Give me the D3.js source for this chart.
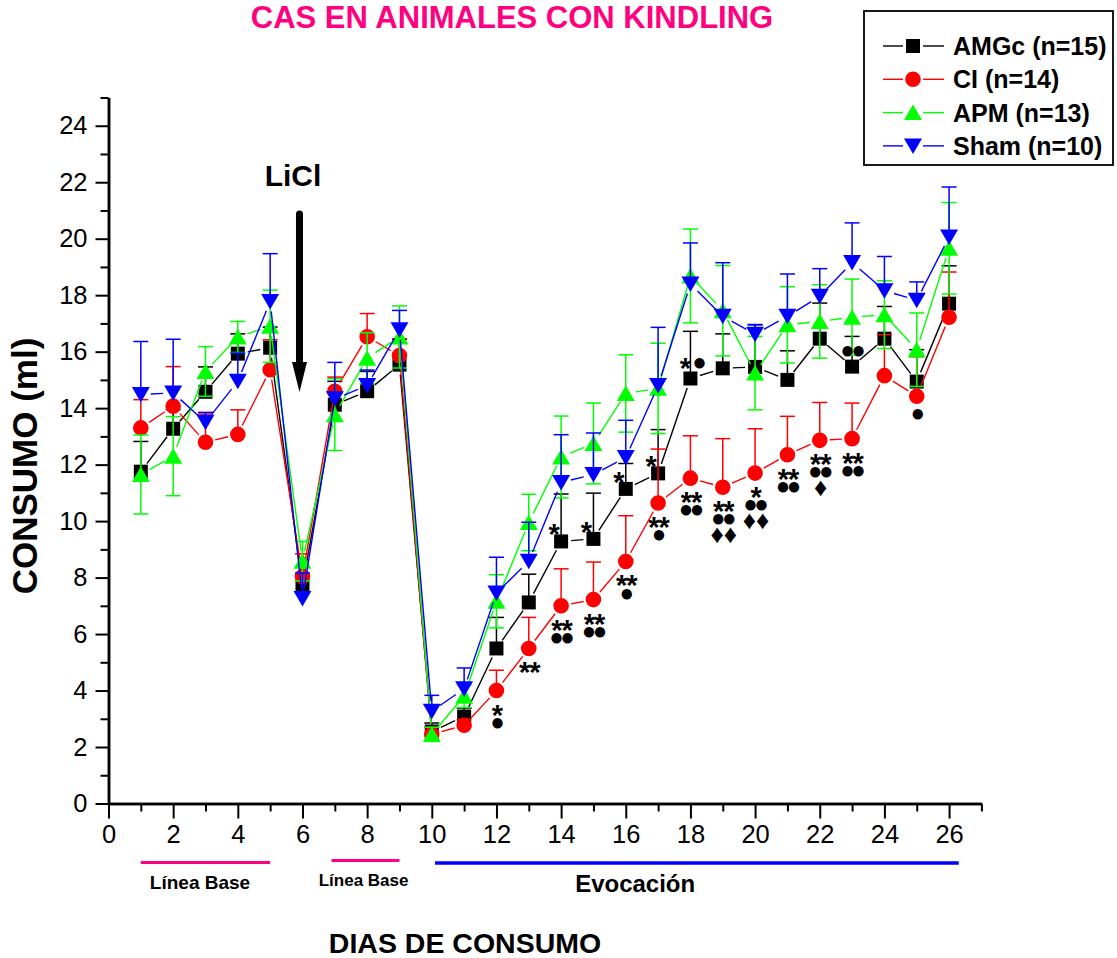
<!DOCTYPE html>
<html>
<head>
<meta charset="utf-8">
<script src="https://cdn.jsdelivr.net/npm/d3@7"></script>
<style>
  body { margin: 0; background: #fff; }
  text { font-family: Arial, "Liberation Sans", sans-serif; }
</style>
</head>
<body>
<svg id="chart" width="1117" height="958"></svg>
<script>
// Consumption days
const days = d3.range(1, 27);

// Mean consumption (ml) per group
const amgc    = [11.75, 13.27, 14.58, 15.93, 16.14, 7.70, 14.12, 14.60, 15.54, 2.55, 3.08, 5.49, 7.12, 9.28, 9.37, 11.14, 11.69, 15.05, 15.41, 15.46, 15.00, 16.46, 15.47, 16.46, 14.94, 17.70];
const amgcErr = [1.07, 0.68, 0.88, 0.70, 0.73, 0.68, 0.83, 0.70, 0.90, 0.30, 0.30, 1.10, 1.00, 1.68, 1.62, 0.90, 1.55, 1.67, 1.22, 1.50, 1.03, 1.26, 1.07, 1.14, 1.13, 1.34];

const ci      = [13.30, 14.07, 12.79, 13.07, 15.36, 8.04, 14.60, 16.53, 15.86, 2.45, 2.77, 4.00, 5.49, 7.00, 7.22, 8.57, 10.64, 11.52, 11.20, 11.70, 12.35, 12.86, 12.92, 15.15, 14.42, 17.22];
const ciErr   = [1.00, 1.40, 1.00, 0.87, 1.06, 0.80, 0.50, 0.82, 0.60, 0.25, 0.20, 0.72, 1.10, 1.31, 1.33, 1.62, 1.91, 1.50, 1.72, 1.57, 1.36, 1.34, 1.26, 1.45, 1.40, 1.60];

const apm     = [11.65, 12.30, 15.30, 16.52, 16.90, 8.58, 13.77, 15.77, 16.52, 2.45, 3.80, 7.16, 9.95, 12.27, 12.75, 14.52, 14.70, 18.68, 17.45, 15.24, 16.95, 17.07, 17.22, 17.31, 16.07, 19.66];
const apmErr  = [1.40, 1.40, 0.88, 0.55, 1.28, 0.70, 1.27, 0.90, 1.10, 0.25, 0.40, 0.94, 1.00, 1.45, 1.43, 1.37, 1.60, 1.66, 1.60, 1.30, 1.35, 1.30, 1.35, 1.20, 1.30, 1.62];

const sham    = [14.48, 14.54, 13.50, 14.95, 17.78, 7.26, 14.33, 14.80, 16.78, 3.27, 4.06, 7.45, 8.58, 11.37, 11.65, 12.25, 14.80, 18.40, 17.25, 16.62, 17.25, 17.96, 19.16, 18.16, 17.82, 20.06];
const shamErr = [1.88, 1.90, 0.35, 1.00, 1.69, 0.90, 1.29, 0.55, 0.68, 0.56, 0.74, 1.27, 1.38, 1.69, 1.47, 1.32, 2.06, 1.45, 1.90, 0.33, 1.50, 0.98, 1.40, 1.21, 0.65, 1.77];

// Group names
const groupNames = ["AMGc (n=15)", "CI (n=14)", "APM (n=13)", "Sham (n=10)"];

// Significance marks under the CI points
const ciSigDays  = [12, 13, 14, 15, 16, 17, 18, 19, 20, 21, 22, 23, 25];
const ciSigMarks = [
  ["*", "●"], ["**"], ["**", "●●"], ["**", "●●"], ["**", "●"], ["**", "●"],
  ["**", "●●"], ["**", "●●", "♦♦"], ["*", "●●", "♦♦"], ["**", "●●"],
  ["**", "●●", "♦"], ["**", "●●"], ["●"]
];
// Significance marks above the AMGc points
const amgcSigDays  = [14, 15, 16, 17, 18, 23];
const amgcSigMarks = ["*", "*", "*", "*", "*●", "●●"];

// Axis ticks
const xTickValues = d3.range(0, 27, 2);
const xMinorTicks = d3.range(1, 28, 2);
const yTickValues = d3.range(0, 25, 2);
const yMinorTicks = d3.range(1, 26, 2);

// Phase bands under the axis (in days)
const phaseLabels  = ["Línea Base", "Línea Base", "Evocación"];
const phaseStart   = [1, 6.9, 10.1];
const phaseEnd     = [5, 9, 26.3];
const phaseLabelAt = [2.83, 7.89, 16.29];

const svg = d3.select("#chart");
const x = d3.scaleLinear().domain([0, 27]).range([108.5, 981.4]);
const y = d3.scaleLinear().domain([0, 25]).range([803.5, 97.5]);

const FONT = 'Arial, "Liberation Sans", sans-serif';
const PINK = "#ff0080";

// Title
svg.append("text").attr("x", 512).attr("y", 28)
  .attr("text-anchor", "middle").attr("font-size", 31).attr("font-weight", "bold")
  .attr("fill", PINK).text("CAS EN ANIMALES CON KINDLING");

// Axes
function styleAxis(g) {
  g.select(".domain").attr("stroke", "#000").attr("stroke-width", 2.5);
  g.selectAll(".tick line").attr("stroke", "#000").attr("stroke-width", 2);
  g.selectAll(".tick text").attr("font-size", 25.5).attr("font-family", FONT).attr("fill", "#000");
}
svg.append("g").attr("transform", `translate(0,${y(0)})`)
  .call(d3.axisBottom(x).tickValues(xMinorTicks).tickSize(8).tickSizeOuter(0).tickFormat(""))
  .call(styleAxis);
svg.append("g").attr("transform", `translate(0,${y(0)})`)
  .call(d3.axisBottom(x).tickValues(xTickValues).tickSize(15).tickSizeOuter(0).tickPadding(6))
  .call(styleAxis);
svg.append("g").attr("transform", `translate(${x(0)},0)`)
  .call(d3.axisLeft(y).tickValues(yMinorTicks).tickSize(8).tickSizeOuter(0).tickFormat(""))
  .call(styleAxis);
svg.append("g").attr("transform", `translate(${x(0)},0)`)
  .call(d3.axisLeft(y).tickValues(yTickValues).tickSize(13).tickSizeOuter(0).tickPadding(8))
  .call(styleAxis);

// Axis titles
svg.append("text").attr("transform", `translate(37,${466}) rotate(-90)`)
  .attr("text-anchor", "middle").attr("font-size", 35).attr("font-weight", "bold")
  .text("CONSUMO (ml)");
svg.append("text").attr("x", 465).attr("y", 953)
  .attr("text-anchor", "middle").attr("font-size", 28.5).attr("font-weight", "bold")
  .text("DIAS DE CONSUMO");

// Phase bands
const phaseColors = [PINK, PINK, "#0000ff"];
const phaseY = [862.5, 860.5, 863];
const phaseFont = [19, 17, 24];
const phaseTextY = [889, 886, 892];
phaseLabels.forEach((lab, i) => {
  svg.append("line")
    .attr("x1", x(phaseStart[i])).attr("x2", x(phaseEnd[i]))
    .attr("y1", phaseY[i]).attr("y2", phaseY[i])
    .attr("stroke", phaseColors[i]).attr("stroke-width", i === 2 ? 3.5 : 3);
  svg.append("text")
    .attr("x", x(phaseLabelAt[i])).attr("y", phaseTextY[i])
    .attr("text-anchor", "middle").attr("font-size", phaseFont[i]).attr("font-weight", "bold")
    .text(lab);
});

// LiCl injection arrow
svg.append("text").attr("x", 293).attr("y", 186)
  .attr("text-anchor", "middle").attr("font-size", 30).attr("font-weight", "bold").text("LiCl");
const ax = x(6) - 3;
svg.append("line").attr("x1", ax).attr("x2", ax).attr("y1", 214).attr("y2", 366)
  .attr("stroke", "#000").attr("stroke-width", 7).attr("stroke-linecap", "round");
svg.append("path")
  .attr("d", `M${ax - 7.5},362 L${ax + 7.5},362 L${ax},${392} Z`)
  .attr("fill", "#000");

// Marker shapes
function markerPath(kind) {
  switch (kind) {
    case "square": return "M-7,-7H7V7H-7Z";
    case "circle": return "M-7.8,0A7.8,7.8 0 1,0 7.8,0A7.8,7.8 0 1,0 -7.8,0Z";
    case "up":     return "M0,-8L9,7.5H-9Z";
    case "down":   return "M0,8L9,-7.5H-9Z";
  }
}

// Groups drawn in order: AMGc, CI, APM, Sham
const groups = [
  { vals: amgc, errs: amgcErr, color: "#000000", shape: "square", both: false },
  { vals: ci,   errs: ciErr,   color: "#ff0000", shape: "circle", both: false },
  { vals: apm,  errs: apmErr,  color: "#00ff00", shape: "up",     both: true  },
  { vals: sham, errs: shamErr, color: "#0000ff", shape: "down",   both: false }
];

const GAP = 10;
groups.forEach((gr) => {
  const g = svg.append("g");
  const pts = days.map((d, i) => ({ px: x(d), py: y(gr.vals[i]), v: gr.vals[i], e: gr.errs[i], d }));
  // connecting segments with a small gap around each symbol
  for (let i = 0; i < pts.length - 1; i++) {
    const a = pts[i], b = pts[i + 1];
    const dx = b.px - a.px, dy = b.py - a.py;
    const len = Math.hypot(dx, dy);
    if (len <= 2 * GAP) continue;
    const ux = dx / len, uy = dy / len;
    g.append("line")
      .attr("x1", a.px + ux * GAP).attr("y1", a.py + uy * GAP)
      .attr("x2", b.px - ux * GAP).attr("y2", b.py - uy * GAP)
      .attr("stroke", gr.color).attr("stroke-width", 1.4);
  }
  // error bars
  pts.forEach(p => {
    const top = y(p.v + p.e);
    const bot = gr.both ? y(p.v - p.e) : p.py;
    g.append("line").attr("x1", p.px).attr("x2", p.px).attr("y1", top).attr("y2", bot)
      .attr("stroke", gr.color).attr("stroke-width", 1.5);
    g.append("line").attr("x1", p.px - 7.5).attr("x2", p.px + 7.5).attr("y1", top).attr("y2", top)
      .attr("stroke", gr.color).attr("stroke-width", 1.5);
    if (gr.both) {
      g.append("line").attr("x1", p.px - 7.5).attr("x2", p.px + 7.5).attr("y1", bot).attr("y2", bot)
        .attr("stroke", gr.color).attr("stroke-width", 1.5);
    }
  });
  // symbols
  g.selectAll("path.sym").data(pts).join("path").attr("class", "sym")
    .attr("transform", p => `translate(${p.px},${p.py})`)
    .attr("d", markerPath(gr.shape)).attr("fill", gr.color);
});

// Significance marks: one text row per symbol kind
function markLine(sel, txt, cx, cy) {
  const isStar = txt.includes("*");
  const isDia = txt.includes("♦");
  let size, shift, spacing = 0;
  if (isStar) { size = 29; shift = 0.585 * 29; spacing = -1; }
  else if (isDia) { size = 26; shift = 0.33 * 26; spacing = 0; }
  else { size = 24; shift = 0.34 * 24; spacing = -3.5; }
  // trailing letter-spacing shifts the anchored run; compensate
  sel.append("text").attr("x", cx + spacing / 2).attr("y", cy + shift)
    .attr("text-anchor", "middle").attr("font-size", size).attr("font-weight", "bold")
    .attr("letter-spacing", spacing).text(txt);
}
const sigG = svg.append("g");
ciSigDays.forEach((d, i) => {
  const base = y(ci[d - 1]);
  const lines = ciSigMarks[i];
  let cy = base + 17;
  lines.forEach((t, k) => {
    markLine(sigG, t, x(d) + 1, cy);
    cy += lines[k + 1] && lines[k + 1].includes("♦") ? 16 : 14;
  });
});
amgcSigDays.forEach((d, i) => {
  const t = amgcSigMarks[i];
  const cx = x(d) + (t === "*" ? -7 : 1);
  const cy = y(amgc[d - 1]) - (t === "*" ? 14 : 17);
  if (t === "*●") {
    markLine(sigG, "*", cx - 6, cy);
    markLine(sigG, "●", cx + 8, cy);
  } else {
    markLine(sigG, t, cx, cy);
  }
});

// Legend
const leg = svg.append("g");
leg.append("rect").attr("x", 864).attr("y", 11).attr("width", 249).attr("height", 154)
  .attr("fill", "#fff").attr("stroke", "#000").attr("stroke-width", 1.8);
groups.forEach((gr, i) => {
  const cy = 46 + i * 33.3;
  leg.append("line").attr("x1", 883).attr("x2", 903).attr("y1", cy).attr("y2", cy)
    .attr("stroke", gr.color).attr("stroke-width", 1.4);
  leg.append("line").attr("x1", 923).attr("x2", 944).attr("y1", cy).attr("y2", cy)
    .attr("stroke", gr.color).attr("stroke-width", 1.4);
  leg.append("path").attr("transform", `translate(913,${cy})`)
    .attr("d", markerPath(gr.shape)).attr("fill", gr.color);
  leg.append("text").attr("x", 953).attr("y", cy + 9)
    .attr("font-size", 25).attr("font-weight", "bold").text(groupNames[i]);
});
</script>
</body>
</html>
